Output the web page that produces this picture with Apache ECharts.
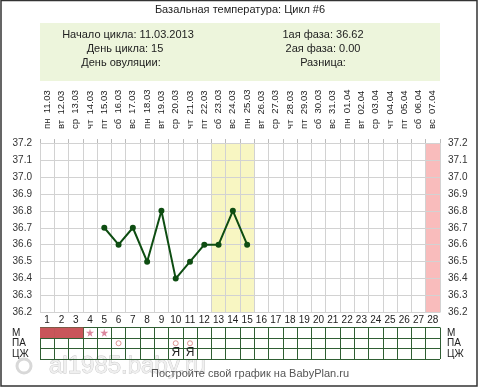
<!DOCTYPE html>
<html>
<head>
<meta charset="utf-8">
<script src="https://cdn.jsdelivr.net/npm/echarts@6/dist/echarts.min.js"></script>
<style>
html,body{margin:0;padding:0;background:#fff;}
#c{width:480px;height:387px;}
</style>
</head>
<body>
<div id="c"></div>
<script>
const dayNumbers = ['1','2','3','4','5','6','7','8','9','10','11','12','13','14','15','16','17','18','19','20','21','22','23','24','25','26','27','28'];
const weekdays = ['пн','вт','ср','чт','пт','сб','вс','пн','вт','ср','чт','пт','сб','вс','пн','вт','ср','чт','пт','сб','вс','пн','вт','ср','чт','пт','сб','вс'];
const dates = ['11.03','12.03','13.03','14.03','15.03','16.03','17.03','18.03','19.03','20.03','21.03','22.03','23.03','24.03','25.03','26.03','27.03','28.03','29.03','30.03','31.03','01.04','02.04','03.04','04.04','05.04','06.04','07.04'];
const temps = [null,null,null,null,36.7,36.6,36.7,36.5,36.8,36.4,36.5,36.6,36.6,36.8,36.6,null,null,null,null,null,null,null,null,null,null,null,null,null];
const yMin = 36.2, yMax = 37.2, yStep = 0.1;
const yellowDays = [13,14,15];
const pinkDays = [28];
const rowNames = ['М','ПА','ЦЖ'];
const mensesDays = [1,2,3];
const starDays = [4,5];
const paDays = [6,10,11];
const czDays = [10,11];
const infoLeft = ['Начало цикла: 11.03.2013','День цикла: 15','День овуляции:'];
const infoRight = ['1ая фаза: 36.62','2ая фаза: 0.00','Разница:'];
const title = 'Базальная температура: Цикл #6';

const topLabels = weekdays.map((w,i)=> w + '  ' + dates[i]);
const FONT = 'Liberation Sans, Arial, sans-serif';
const STAR = 'path://M50,0 L61,35 L98,35 L68,57 L79,91 L50,70 L21,91 L32,57 L2,35 L39,35 Z';
const chart = echarts.init(document.getElementById('c'), null, {renderer:'canvas'});

function bandSeries(days, color){
  return {
    type:'custom', xAxisIndex:0, yAxisIndex:0, z:-1, silent:true,
    data: days.map(d=>[d-1]),
    renderItem(params, api){
      const x = api.value(0);
      const t = api.coord([x, yMax]);
      const b = api.coord([x, yMin]);
      const w = api.size([1,0])[0];
      return {type:'rect', shape:{x:t[0]-w/2, y:t[1], width:w, height:b[1]-t[1]}, style:{fill:color}};
    }
  };
}
function textSeries(days, row, ch, style, dy){
  return {
    type:'custom', xAxisIndex:2, yAxisIndex:2, silent:true,
    data: days.map(d=>[d-1, row]),
    renderItem(params, api){
      const p = api.coord([api.value(0), api.value(1)]);
      return {type:'text', x:p[0], y:p[1]+dy, style:Object.assign({text:ch, textAlign:'center', textVerticalAlign:'middle', fontFamily:FONT}, style)};
    }
  };
}

const left = infoLeft.map((t,i)=>({type:'text', x:[128,125,121][i], y:35+i*14, style:{text:t, textAlign:'center', textVerticalAlign:'middle', font:'11px '+FONT, fill:'#222'}}));
const right = infoRight.map((t,i)=>({type:'text', x:323, y:35+i*14, style:{text:t, textAlign:'center', textVerticalAlign:'middle', font:'11px '+FONT, fill:'#222'}}));

chart.setOption({
  animation:false,
  backgroundColor:'#fff',
  grid:[
    {left:40, right:40, top:143, height:169.5},
    {left:40, right:40, top:327.5, height:31.5}
  ],
  xAxis:[
    {type:'category', gridIndex:0, position:'top', data:topLabels,
     axisLine:{show:false}, axisTick:{show:true, interval:0, length:4, lineStyle:{color:'#bbb'}},
     axisLabel:{interval:0, rotate:-90, fontSize:9.5, margin:14, color:'#222', fontFamily:FONT},
     splitLine:{show:true, interval:0, lineStyle:{color:'#d2d2d2'}}},
    {type:'category', gridIndex:0, position:'bottom', data:dayNumbers,
     axisLine:{show:false}, axisTick:{show:false},
     axisLabel:{interval:0, fontSize:10, margin:3, color:'#222', fontFamily:FONT}},
    {type:'category', gridIndex:1, data:dayNumbers,
     axisLine:{show:false}, axisTick:{show:false}, axisLabel:{show:false},
     splitLine:{show:true, interval:0, lineStyle:{color:'#2f5e33', width:1}}}
  ],
  yAxis:[
    {type:'value', gridIndex:0, min:yMin, max:yMax, interval:yStep, position:'left',
     axisLine:{show:false}, axisTick:{show:false},
     axisLabel:{fontSize:10, margin:8, color:'#333', fontFamily:FONT, formatter:v=>v.toFixed(1)},
     splitLine:{show:true, lineStyle:{color:'#d2d2d2'}}},
    {type:'value', gridIndex:0, min:yMin, max:yMax, interval:yStep, position:'right',
     axisLine:{show:false}, axisTick:{show:false},
     axisLabel:{fontSize:10, margin:8, color:'#333', fontFamily:FONT, formatter:v=>v.toFixed(1)},
     splitLine:{show:false}},
    {type:'category', gridIndex:1, data:rowNames, inverse:true, position:'left',
     axisLine:{show:false}, axisTick:{show:false},
     axisLabel:{interval:0, fontSize:10, margin:28, align:'left', color:'#222', fontFamily:FONT},
     splitLine:{show:true, interval:0, lineStyle:{color:'#2f5e33', width:1}}},
    {type:'category', gridIndex:1, data:rowNames, inverse:true, position:'right',
     axisLine:{show:false}, axisTick:{show:false},
     axisLabel:{interval:0, fontSize:10, margin:7, align:'left', color:'#222', fontFamily:FONT},
     splitLine:{show:false}}
  ],
  series:[
    bandSeries(yellowDays, '#f8f6c2'),
    bandSeries(pinkDays, '#f9bcbc'),
    {type:'line', xAxisIndex:0, yAxisIndex:0, data:temps, connectNulls:false,
     symbol:'circle', symbolSize:6, lineStyle:{color:'#0e4d12', width:2},
     itemStyle:{color:'#0e4d12'}, z:3},
    {type:'custom', xAxisIndex:2, yAxisIndex:2, silent:true,
     data: mensesDays.map(d=>[d-1, 0]),
     renderItem(params, api){
       const p = api.coord([api.value(0), api.value(1)]);
       const s = api.size([1,1]);
       return {type:'rect', shape:{x:p[0]-s[0]/2, y:p[1]-s[1]/2, width:s[0]+0.5, height:s[1]}, style:{fill:'#c9555a'}};
     }},
    {type:'scatter', xAxisIndex:2, yAxisIndex:2, silent:true,
     data: starDays.map(d=>[d-1, 0]), symbol:STAR, symbolSize:8,
     itemStyle:{color:'#d26a86'}},
    {type:'scatter', xAxisIndex:2, yAxisIndex:2, silent:true,
     data: paDays.map(d=>[d-1, 1]), symbol:'circle', symbolSize:5,
     itemStyle:{color:'#fff', borderColor:'#d67c7c', borderWidth:1}, z:4},
    textSeries(czDays, 2, 'Я', {font:'bold 8px '+FONT, fill:'#222'}, -1)
  ],
  graphic:[
    {type:'rect', shape:{x:1, y:0.5, width:476, height:385.5}, style:{fill:'none', stroke:'#333', lineWidth:1.5}, z:100},
    {type:'text', x:240, y:10, style:{text:title, textAlign:'center', textVerticalAlign:'middle', font:'11px '+FONT, fill:'#222'}},
    {type:'rect', shape:{x:40, y:23, width:400, height:58}, style:{fill:'#edf5dc'}, z:-5},
    ...left, ...right,
    {type:'circle', shape:{cx:24, cy:366, r:7}, style:{fill:'none', stroke:'#d8d8d8', lineWidth:3}},
    {type:'text', x:49, y:366, style:{text:'al1985.baby.ru', textAlign:'left', textVerticalAlign:'middle', font:'24px '+FONT, fill:'#f0f0f0', stroke:'#c4c4c4', lineWidth:0.8}},
    {type:'text', x:250, y:374, style:{text:'Постройте свой график на BabyPlan.ru', textAlign:'center', textVerticalAlign:'middle', font:'11px '+FONT, fill:'#555'}}
  ]
});
</script>
</body>
</html>
